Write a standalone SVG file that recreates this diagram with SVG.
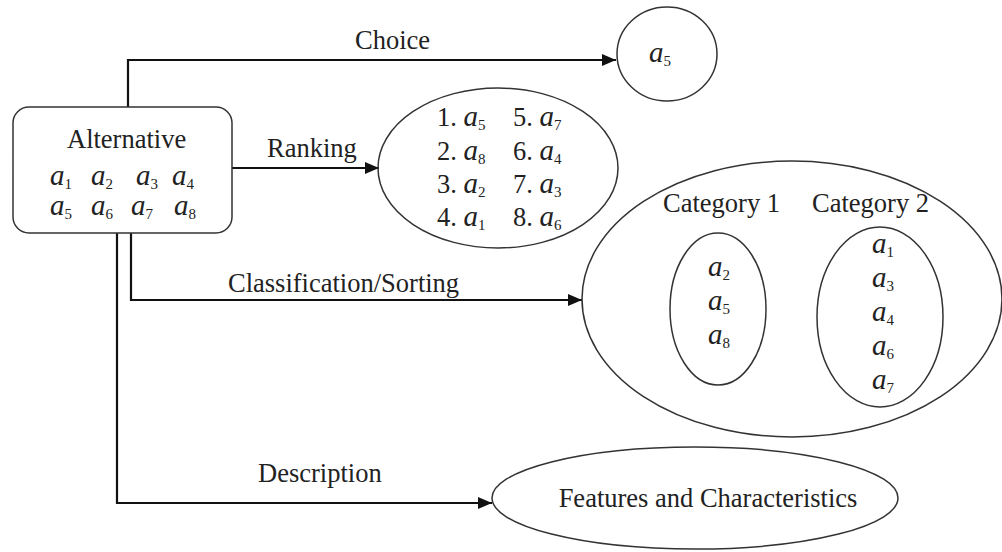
<svg xmlns="http://www.w3.org/2000/svg" width="1002" height="552" viewBox="0 0 1002 552">
<style>
.t{font-family:"Liberation Serif","Times New Roman",serif;font-size:26.5px;fill:#222}
.m{font-family:"Liberation Serif","Times New Roman",serif;font-size:29px;font-style:italic;fill:#222}
.s{font-size:15px;font-style:normal}
.shape{fill:none;stroke:#333;stroke-width:1.5}
.conn{fill:none;stroke:#111;stroke-width:2.2}
</style>
<defs>
<marker id="ah" markerWidth="14" markerHeight="12" refX="14" refY="6" orient="auto" markerUnits="userSpaceOnUse">
<path d="M0,0 L14,6 L0,12 Z" fill="#111"/>
</marker>
</defs>
<rect width="1002" height="552" fill="#fff"/>
<g id="connectors">
<path class="conn" d="M128,107 V60 H616" marker-end="url(#ah)"/>
<path class="conn" d="M232,168 H379" marker-end="url(#ah)"/>
<path class="conn" d="M131,233 V300 H582" marker-end="url(#ah)"/>
<path class="conn" d="M117,233 V503 H492" marker-end="url(#ah)"/>
<text class="t" x="355" y="49">Choice</text>
<text class="t" x="267" y="157">Ranking</text>
<text class="t" x="228" y="292">Classification/Sorting</text>
<text class="t" x="258" y="482">Description</text>
</g>
<g id="alternative">
<rect class="shape" x="13" y="107" width="219" height="126" rx="16"/>
<text class="t" x="67" y="148">Alternative</text>
<text class="m" x="50" y="185">a<tspan class="s" dy="4">1</tspan></text>
<text class="m" x="91" y="185">a<tspan class="s" dy="4">2</tspan></text>
<text class="m" x="136" y="185">a<tspan class="s" dy="4">3</tspan></text>
<text class="m" x="172" y="185">a<tspan class="s" dy="4">4</tspan></text>
<text class="m" x="50" y="215">a<tspan class="s" dy="4">5</tspan></text>
<text class="m" x="91" y="215">a<tspan class="s" dy="4">6</tspan></text>
<text class="m" x="131" y="215">a<tspan class="s" dy="4">7</tspan></text>
<text class="m" x="174" y="215">a<tspan class="s" dy="4">8</tspan></text>
</g>
<g id="choice">
<ellipse class="shape" cx="667" cy="54" rx="50" ry="47"/>
<text class="m" x="649" y="62">a<tspan class="s" dy="4">5</tspan></text>
</g>
<g id="ranking">
<ellipse class="shape" cx="498" cy="168" rx="120" ry="80"/>
<text class="t" x="437" y="126">1. <tspan class="m">a</tspan><tspan class="s" dy="4">5</tspan></text>
<text class="t" x="513" y="126">5. <tspan class="m">a</tspan><tspan class="s" dy="4">7</tspan></text>
<text class="t" x="437" y="160">2. <tspan class="m">a</tspan><tspan class="s" dy="4">8</tspan></text>
<text class="t" x="513" y="160">6. <tspan class="m">a</tspan><tspan class="s" dy="4">4</tspan></text>
<text class="t" x="437" y="193">3. <tspan class="m">a</tspan><tspan class="s" dy="4">2</tspan></text>
<text class="t" x="513" y="193">7. <tspan class="m">a</tspan><tspan class="s" dy="4">3</tspan></text>
<text class="t" x="437" y="226">4. <tspan class="m">a</tspan><tspan class="s" dy="4">1</tspan></text>
<text class="t" x="513" y="226">8. <tspan class="m">a</tspan><tspan class="s" dy="4">6</tspan></text>
</g>
<g id="classification">
<ellipse class="shape" cx="792" cy="299" rx="210" ry="138"/>
<text class="t" x="663" y="212">Category 1</text>
<text class="t" x="812" y="212">Category 2</text>
<ellipse class="shape" cx="718" cy="309" rx="48" ry="76"/>
<text class="m" x="708" y="276">a<tspan class="s" dy="4">2</tspan></text>
<text class="m" x="708" y="310">a<tspan class="s" dy="4">5</tspan></text>
<text class="m" x="708" y="344">a<tspan class="s" dy="4">8</tspan></text>
<ellipse class="shape" cx="880" cy="317" rx="63" ry="90"/>
<text class="m" x="872" y="253">a<tspan class="s" dy="4">1</tspan></text>
<text class="m" x="872" y="287">a<tspan class="s" dy="4">3</tspan></text>
<text class="m" x="872" y="321">a<tspan class="s" dy="4">4</tspan></text>
<text class="m" x="872" y="355">a<tspan class="s" dy="4">6</tspan></text>
<text class="m" x="872" y="389">a<tspan class="s" dy="4">7</tspan></text>
</g>
<g id="description">
<ellipse class="shape" cx="695" cy="498" rx="203" ry="51"/>
<text class="t" x="708" y="507" text-anchor="middle">Features and Characteristics</text>
</g>
</svg>
